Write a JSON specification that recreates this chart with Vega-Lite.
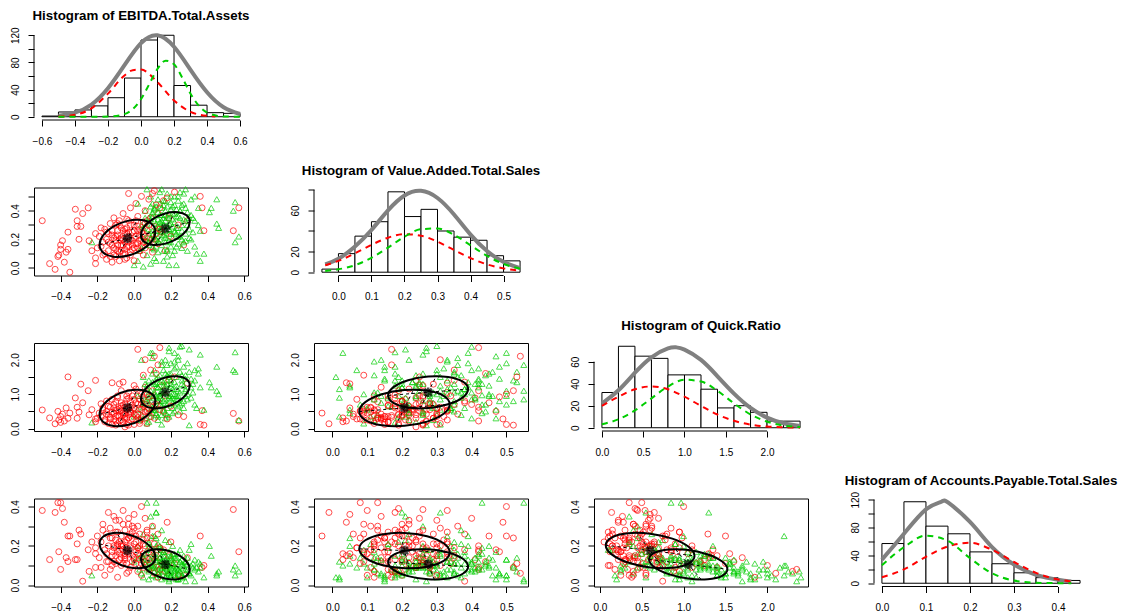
{
"$schema":"https://vega.github.io/schema/vega-lite/v6.json",
"background":"white",
"padding":{"left":9,"top":8,"right":5,"bottom":3},
"bounds":"flush",
"columns":4,
"spacing":{"row":67.5,"column":66},
"config":{
 "view":{"stroke":null},
 "font":"Liberation Sans",
 "axis":{"domain":false,"grid":false,"tickSize":6,"tickColor":"#000","tickWidth":1,"labelFont":"Liberation Sans","labelFontSize":10,"labelColor":"#000","labelPadding":8,"labelFlush":false,"labelOverlap":false,"tickCount":20},
 "axisX":{"labelPadding":10},
 "axisY":{"labelAngle":270,"labelAlign":"center","labelBaseline":"bottom"},
 "title":{"font":"Liberation Sans","fontSize":13.3,"fontWeight":"bold","color":"#000","anchor":"middle","frame":"group","baseline":"alphabetic"}
},
"datasets":{
"pts":[
{"g":"r","e":-0.5,"v":0.33,"q":0.54,"a":0.38},
{"g":"g","e":0.0,"v":0.02,"q":0.35,"a":0.12},
{"g":"r","e":-0.46,"v":0.03,"q":0.31,"a":0.13},
{"g":"g","e":0.02,"v":0.05,"q":0.55,"a":0.2},
{"g":"r","e":-0.43,"v":-0.01,"q":0.14,"a":0.37},
{"g":"g","e":-0.23,"v":0.18,"q":0.18,"a":0.05},
{"g":"r","e":-0.415,"v":0.08,"q":0.5,"a":0.42},
{"g":"g","e":0.03,"v":0.12,"q":0.25,"a":0.08},
{"g":"r","e":-0.4,"v":0.13,"q":0.35,"a":0.42},
{"g":"g","e":0.04,"v":0.3,"q":0.4,"a":0.15},
{"g":"r","e":-0.39,"v":0.19,"q":0.42,"a":0.39},
{"g":"g","e":0.05,"v":0.01,"q":1.5,"a":0.04},
{"g":"r","e":-0.36,"v":0.25,"q":1.5,"a":0.25},
{"g":"g","e":0.05,"v":0.22,"q":0.62,"a":0.26},
{"g":"r","e":-0.38,"v":0.04,"q":0.22,"a":0.32},
{"g":"g","e":0.06,"v":0.4,"q":0.3,"a":0.11},
{"g":"r","e":-0.35,"v":-0.03,"q":0.45,"a":0.25},
{"g":"g","e":0.07,"v":0.55,"q":0.85,"a":0.42},
{"g":"r","e":-0.36,"v":0.13,"q":0.3,"a":0.12},
{"g":"g","e":0.07,"v":0.09,"q":0.15,"a":0.18},
{"g":"r","e":-0.32,"v":0.41,"q":0.89,"a":0.13},
{"g":"g","e":0.08,"v":0.18,"q":1.4,"a":0.07},
{"g":"r","e":-0.31,"v":0.33,"q":0.62,"a":0.21},
{"g":"g","e":0.08,"v":0.35,"q":0.7,"a":0.22},
{"g":"r","e":-0.31,"v":0.29,"q":0.3,"a":0.13},
{"g":"g","e":0.09,"v":0.5,"q":1.1,"a":0.13},
{"g":"r","e":-0.3,"v":0.2,"q":0.48,"a":0.28},
{"g":"g","e":0.09,"v":0.03,"q":2.2,"a":0.1},
{"g":"r","e":-0.29,"v":0.29,"q":1.29,"a":0.26},
{"g":"g","e":0.1,"v":0.26,"q":0.45,"a":0.3},
{"g":"r","e":-0.28,"v":0.38,"q":0.75,"a":0.02},
{"g":"g","e":0.1,"v":0.14,"q":0.95,"a":0.05},
{"g":"r","e":-0.25,"v":0.42,"q":1.1,"a":0.18},
{"g":"g","e":0.11,"v":0.42,"q":1.3,"a":0.16},
{"g":"r","e":-0.245,"v":0.19,"q":0.4,"a":0.07},
{"g":"g","e":0.11,"v":0.07,"q":1.7,"a":0.09},
{"g":"r","e":-0.21,"v":0.24,"q":1.4,"a":0.09},
{"g":"g","e":0.12,"v":0.31,"q":0.55,"a":0.37},
{"g":"r","e":-0.21,"v":0.07,"q":0.28,"a":0.19},
{"g":"g","e":0.12,"v":0.2,"q":1.2,"a":0.12},
{"g":"r","e":-0.21,"v":0.03,"q":0.2,"a":0.16},
{"g":"g","e":0.13,"v":0.48,"q":0.8,"a":0.06},
{"g":"r","e":-0.41,"v":0.09,"q":0.25,"a":0.17},
{"g":"g","e":0.13,"v":0.11,"q":0.35,"a":0.21},
{"g":"r","e":-0.4,"v":0.16,"q":0.18,"a":0.08},
{"g":"g","e":0.14,"v":0.37,"q":1.55,"a":0.09},
{"g":"r","e":-0.37,"v":0.11,"q":0.6,"a":0.14},
{"g":"g","e":0.14,"v":0.24,"q":0.9,"a":0.14},
{"g":"r","e":-0.23,"v":0.12,"q":0.55,"a":0.22},
{"g":"g","e":0.15,"v":0.55,"q":1.85,"a":0.03},
{"g":"r","e":0.36,"v":0.5,"q":0.12,"a":0.25},
{"g":"g","e":0.15,"v":0.16,"q":0.65,"a":0.19},
{"g":"r","e":0.37,"v":0.42,"q":0.52,"a":0.09},
{"g":"g","e":0.15,"v":0.29,"q":1.05,"a":0.08},
{"g":"r","e":0.54,"v":0.26,"q":0.44,"a":0.385},
{"g":"g","e":0.16,"v":0.44,"q":0.5,"a":0.12},
{"g":"r","e":0.57,"v":0.42,"q":0.22,"a":0.17},
{"g":"g","e":0.16,"v":0.05,"q":1.25,"a":0.15},
{"g":"r","e":0.38,"v":0.26,"q":0.1,"a":0.1},
{"g":"g","e":0.17,"v":0.33,"q":2.0,"a":0.04},
{"g":"r","e":0.27,"v":0.16,"q":0.35,"a":0.05},
{"g":"g","e":0.17,"v":0.21,"q":0.75,"a":0.23},
{"g":"r","e":0.29,"v":0.33,"q":1.32,"a":0.14},
{"g":"g","e":0.18,"v":0.52,"q":1.4,"a":0.1},
{"g":"r","e":-0.18,"v":0.15,"q":0.35,"a":0.22},
{"g":"g","e":0.18,"v":0.13,"q":0.4,"a":0.06},
{"g":"r","e":-0.17,"v":0.09,"q":0.55,"a":0.31},
{"g":"g","e":0.19,"v":0.38,"q":1.15,"a":0.17},
{"g":"r","e":-0.16,"v":0.27,"q":0.2,"a":0.18},
{"g":"g","e":0.19,"v":0.27,"q":2.35,"a":0.02},
{"g":"r","e":-0.15,"v":0.06,"q":0.42,"a":0.26},
{"g":"g","e":0.2,"v":0.46,"q":0.95,"a":0.13},
{"g":"r","e":-0.15,"v":0.2,"q":0.8,"a":0.12},
{"g":"g","e":0.2,"v":0.18,"q":1.6,"a":0.07},
{"g":"r","e":-0.14,"v":0.12,"q":0.15,"a":0.2},
{"g":"g","e":0.21,"v":0.34,"q":0.6,"a":0.2},
{"g":"r","e":-0.13,"v":0.31,"q":0.62,"a":0.29},
{"g":"g","e":0.21,"v":0.09,"q":1.0,"a":0.11},
{"g":"r","e":-0.13,"v":0.17,"q":0.33,"a":0.08},
{"g":"g","e":0.22,"v":0.5,"q":2.2,"a":0.05},
{"g":"r","e":-0.12,"v":0.04,"q":1.33,"a":0.15},
{"g":"g","e":0.22,"v":0.25,"q":1.35,"a":0.14},
{"g":"r","e":-0.12,"v":0.23,"q":0.48,"a":0.24},
{"g":"g","e":0.23,"v":0.41,"q":0.85,"a":0.09},
{"g":"r","e":-0.11,"v":0.14,"q":0.27,"a":0.35},
{"g":"g","e":0.23,"v":0.15,"q":1.8,"a":0.03},
{"g":"r","e":-0.11,"v":0.35,"q":0.7,"a":0.19},
{"g":"g","e":0.24,"v":0.36,"q":1.1,"a":0.16},
{"g":"r","e":-0.1,"v":0.08,"q":0.52,"a":0.11},
{"g":"g","e":0.25,"v":0.53,"q":1.65,"a":0.07},
{"g":"r","e":-0.1,"v":0.19,"q":0.1,"a":0.27},
{"g":"g","e":0.25,"v":0.22,"q":0.7,"a":0.12},
{"g":"r","e":-0.09,"v":0.26,"q":0.9,"a":0.21},
{"g":"g","e":0.26,"v":0.3,"q":2.4,"a":0.04},
{"g":"r","e":-0.09,"v":0.12,"q":0.38,"a":0.04},
{"g":"g","e":0.27,"v":0.45,"q":1.25,"a":0.1},
{"g":"r","e":-0.08,"v":0.05,"q":1.3,"a":0.16},
{"g":"g","e":0.28,"v":0.19,"q":0.95,"a":0.06},
{"g":"r","e":-0.08,"v":0.3,"q":0.58,"a":0.33},
{"g":"g","e":0.29,"v":0.39,"q":1.9,"a":0.08},
{"g":"r","e":-0.07,"v":0.21,"q":0.25,"a":0.25},
{"g":"g","e":0.3,"v":0.27,"q":0.1,"a":0.18},
{"g":"r","e":-0.07,"v":0.16,"q":0.66,"a":0.14},
{"g":"g","e":0.31,"v":0.48,"q":1.45,"a":0.05},
{"g":"r","e":-0.06,"v":0.38,"q":1.35,"a":0.18},
{"g":"g","e":0.32,"v":0.35,"q":1.05,"a":0.11},
{"g":"r","e":-0.06,"v":0.1,"q":0.45,"a":0.38},
{"g":"g","e":0.33,"v":0.15,"q":1.7,"a":0.02},
{"g":"r","e":-0.05,"v":0.24,"q":0.05,"a":0.22},
{"g":"g","e":0.34,"v":0.1,"q":0.6,"a":0.09},
{"g":"r","e":-0.05,"v":0.18,"q":0.72,"a":0.13},
{"g":"g","e":0.35,"v":0.3,"q":1.6,"a":0.07},
{"g":"r","e":-0.05,"v":0.13,"q":0.3,"a":0.28},
{"g":"g","e":0.35,"v":0.42,"q":1.75,"a":0.12},
{"g":"r","e":-0.04,"v":0.28,"q":0.55,"a":0.06},
{"g":"g","e":0.36,"v":0.05,"q":1.2,"a":0.11},
{"g":"r","e":-0.04,"v":0.07,"q":0.85,"a":0.19},
{"g":"g","e":0.38,"v":0.1,"q":0.55,"a":0.04},
{"g":"r","e":-0.03,"v":0.22,"q":0.4,"a":0.31},
{"g":"g","e":0.41,"v":0.39,"q":1.35,"a":0.2},
{"g":"r","e":-0.03,"v":0.33,"q":1.05,"a":0.16},
{"g":"g","e":0.42,"v":0.42,"q":1.2,"a":0.15},
{"g":"r","e":-0.03,"v":0.15,"q":0.18,"a":0.24},
{"g":"g","e":0.45,"v":0.48,"q":1.8,"a":0.06},
{"g":"r","e":-0.02,"v":0.42,"q":0.62,"a":0.2},
{"g":"g","e":0.45,"v":0.31,"q":1.1,"a":0.05},
{"g":"r","e":-0.02,"v":0.11,"q":0.48,"a":0.09},
{"g":"g","e":0.46,"v":0.28,"q":1.0,"a":0.07},
{"g":"r","e":-0.01,"v":0.25,"q":0.95,"a":0.27},
{"g":"g","e":0.54,"v":0.4,"q":1.7,"a":0.08},
{"g":"r","e":-0.01,"v":0.19,"q":0.28,"a":0.15},
{"g":"g","e":0.55,"v":0.46,"q":1.65,"a":0.05},
{"g":"r","e":0.0,"v":0.05,"q":0.6,"a":0.36},
{"g":"g","e":0.55,"v":0.18,"q":2.22,"a":0.1},
{"g":"r","e":0.0,"v":0.3,"q":0.12,"a":0.21},
{"g":"g","e":0.57,"v":0.22,"q":0.25,"a":0.07},
{"g":"r","e":0.01,"v":0.22,"q":1.15,"a":0.11},
{"g":"g","e":0.06,"v":0.2,"q":0.85,"a":0.13},
{"g":"r","e":0.01,"v":0.45,"q":0.75,"a":0.25},
{"g":"g","e":0.08,"v":0.27,"q":1.05,"a":0.09},
{"g":"r","e":0.02,"v":0.17,"q":2.3,"a":0.07},
{"g":"g","e":0.1,"v":0.38,"q":0.6,"a":0.15},
{"g":"r","e":0.02,"v":0.36,"q":0.42,"a":0.3},
{"g":"g","e":0.12,"v":0.15,"q":1.45,"a":0.04},
{"g":"r","e":0.03,"v":0.12,"q":0.85,"a":0.18},
{"g":"g","e":0.13,"v":0.29,"q":0.25,"a":0.1},
{"g":"r","e":0.03,"v":0.27,"q":0.22,"a":0.13},
{"g":"g","e":0.14,"v":0.45,"q":1.0,"a":0.2},
{"g":"r","e":0.04,"v":0.5,"q":1.0,"a":0.4},
{"g":"g","e":0.16,"v":0.23,"q":1.35,"a":0.07},
{"g":"r","e":0.04,"v":0.2,"q":0.55,"a":0.05},
{"g":"g","e":0.17,"v":0.4,"q":0.85,"a":0.11},
{"g":"r","e":0.05,"v":0.09,"q":1.55,"a":0.16},
{"g":"g","e":0.18,"v":0.08,"q":0.7,"a":0.14},
{"g":"r","e":0.05,"v":0.32,"q":0.35,"a":0.23},
{"g":"g","e":0.19,"v":0.31,"q":1.5,"a":0.06},
{"g":"r","e":0.06,"v":0.4,"q":0.7,"a":0.34},
{"g":"g","e":0.2,"v":0.24,"q":1.2,"a":0.09},
{"g":"r","e":0.06,"v":0.14,"q":1.2,"a":0.12},
{"g":"g","e":0.21,"v":0.43,"q":0.45,"a":0.16},
{"g":"r","e":0.07,"v":0.26,"q":0.15,"a":0.28},
{"g":"g","e":0.22,"v":0.12,"q":1.95,"a":0.08},
{"g":"r","e":0.08,"v":0.48,"q":0.92,"a":0.17},
{"g":"g","e":0.23,"v":0.28,"q":0.95,"a":0.13},
{"g":"r","e":0.08,"v":0.21,"q":0.45,"a":0.08},
{"g":"g","e":0.24,"v":0.47,"q":2.1,"a":0.03},
{"g":"r","e":0.09,"v":0.35,"q":1.7,"a":0.14},
{"g":"g","e":0.25,"v":0.35,"q":0.5,"a":0.18},
{"g":"r","e":0.1,"v":0.11,"q":0.62,"a":0.3},
{"g":"g","e":0.26,"v":0.2,"q":1.4,"a":0.05},
{"g":"r","e":0.1,"v":0.52,"q":1.1,"a":0.09},
{"g":"g","e":0.27,"v":0.52,"q":0.8,"a":0.09},
{"g":"r","e":0.11,"v":0.29,"q":0.3,"a":0.21},
{"g":"g","e":0.28,"v":0.33,"q":1.15,"a":0.12},
{"g":"r","e":0.12,"v":0.44,"q":1.6,"a":0.12},
{"g":"g","e":0.3,"v":0.21,"q":2.3,"a":0.06},
{"g":"r","e":0.13,"v":0.17,"q":1.85,"a":0.04},
{"g":"g","e":0.11,"v":0.33,"q":1.0,"a":0.25},
{"g":"r","e":0.13,"v":0.38,"q":0.8,"a":0.26},
{"g":"g","e":0.15,"v":0.37,"q":0.4,"a":0.28},
{"g":"r","e":0.15,"v":0.25,"q":1.25,"a":0.1},
{"g":"g","e":0.09,"v":0.43,"q":0.7,"a":0.19},
{"g":"r","e":0.16,"v":0.47,"q":0.5,"a":0.18},
{"g":"g","e":0.17,"v":0.26,"q":1.6,"a":0.13},
{"g":"r","e":0.17,"v":0.12,"q":0.95,"a":0.07},
{"g":"g","e":0.19,"v":0.19,"q":0.35,"a":0.22},
{"g":"r","e":0.19,"v":0.35,"q":1.4,"a":0.15},
{"g":"g","e":0.21,"v":0.29,"q":0.75,"a":0.1},
{"g":"r","e":0.2,"v":0.22,"q":0.65,"a":0.22},
{"g":"g","e":0.13,"v":0.34,"q":1.2,"a":0.08},
{"g":"r","e":0.22,"v":0.53,"q":1.5,"a":0.11},
{"g":"g","e":0.16,"v":0.12,"q":1.05,"a":0.17},
{"g":"r","e":0.24,"v":0.3,"q":0.4,"a":0.05},
{"g":"g","e":0.18,"v":0.36,"q":1.85,"a":0.11},
{"g":"r","e":-0.19,"v":0.22,"q":0.45,"a":0.14},
{"g":"g","e":0.2,"v":0.41,"q":1.3,"a":0.14},
{"g":"r","e":-0.16,"v":0.1,"q":0.25,"a":0.05},
{"g":"g","e":0.24,"v":0.17,"q":0.65,"a":0.08},
{"g":"r","e":-0.14,"v":0.18,"q":0.65,"a":0.37},
{"g":"g","e":0.14,"v":0.26,"q":0.8,"a":0.12},
{"g":"r","e":-0.12,"v":0.26,"q":0.12,"a":0.1},
{"g":"g","e":0.11,"v":0.22,"q":0.55,"a":0.1},
{"g":"r","e":-0.1,"v":0.13,"q":0.78,"a":0.23},
{"g":"g","e":0.22,"v":0.38,"q":1.0,"a":0.06},
{"g":"r","e":-0.08,"v":0.2,"q":0.36,"a":0.13},
{"g":"g","e":0.07,"v":0.31,"q":1.25,"a":0.16},
{"g":"r","e":-0.06,"v":0.16,"q":0.2,"a":0.2},
{"g":"g","e":0.26,"v":0.44,"q":1.55,"a":0.11},
{"g":"r","e":-0.04,"v":0.34,"q":0.95,"a":0.11},
{"g":"g","e":0.29,"v":0.12,"q":0.85,"a":0.14},
{"g":"r","e":-0.02,"v":0.09,"q":0.5,"a":0.26},
{"g":"g","e":0.32,"v":0.25,"q":1.3,"a":0.09},
{"g":"r","e":0.0,"v":0.21,"q":0.85,"a":0.29},
{"g":"g","e":0.04,"v":0.14,"q":2.0,"a":0.06},
{"g":"r","e":0.02,"v":0.14,"q":0.32,"a":0.19},
{"g":"g","e":0.02,"v":0.45,"q":0.95,"a":0.14},
{"g":"r","e":0.04,"v":0.25,"q":0.72,"a":0.14},
{"g":"g","e":0.19,"v":0.02,"q":0.9,"a":0.03},
{"g":"r","e":0.07,"v":0.18,"q":0.98,"a":0.24},
{"g":"g","e":0.1,"v":0.36,"q":2.05,"a":0.05},
{"g":"r","e":-0.09,"v":0.23,"q":0.55,"a":0.17},
{"g":"g","e":0.33,"v":0.5,"q":0.7,"a":0.13},
{"g":"r","e":-0.05,"v":0.27,"q":0.42,"a":0.15},
{"g":"g","e":0.28,"v":0.55,"q":1.1,"a":0.02},
{"g":"r","e":-0.01,"v":0.16,"q":0.68,"a":0.12},
{"g":"g","e":0.12,"v":0.05,"q":0.45,"a":0.24},
{"g":"r","e":0.03,"v":0.23,"q":0.58,"a":0.2},
{"g":"g","e":0.17,"v":0.47,"q":0.3,"a":0.09},
{"g":"r","e":-0.07,"v":0.12,"q":0.52,"a":0.21},
{"g":"g","e":0.23,"v":0.02,"q":1.15,"a":0.04},
{"g":"r","e":0.11,"v":0.54,"q":2.1,"a":0.06},
{"g":"g","e":0.25,"v":0.4,"q":2.38,"a":0.07},
{"g":"r","e":0.14,"v":0.42,"q":2.35,"a":0.08},
{"g":"g","e":0.31,"v":0.37,"q":0.9,"a":0.21},
{"g":"r","e":0.06,"v":0.31,"q":2.0,"a":0.1},
{"g":"g","e":0.36,"v":0.26,"q":2.15,"a":0.09},
{"g":"r","e":0.18,"v":0.49,"q":0.28,"a":0.32},
{"g":"g","e":0.08,"v":0.24,"q":0.2,"a":0.03},
{"g":"r","e":-0.03,"v":0.52,"q":0.1,"a":0.24},
{"g":"g","e":0.15,"v":0.31,"q":0.12,"a":0.18},
{"g":"g","e":0.12,"v":0.43,"q":0.97,"a":0.42},
{"g":"g","e":0.12,"v":0.2,"q":1.3,"a":0.37},
{"g":"g","e":0.09,"v":0.21,"q":0.35,"a":0.35},
{"g":"g","e":0.1,"v":0.39,"q":2.2,"a":0.25},
{"g":"r","e":-0.15,"v":0.25,"q":0.5,"a":0.16},
{"g":"g","e":0.05,"v":0.28,"q":0.75,"a":0.14},
{"g":"r","e":-0.13,"v":0.08,"q":0.28,"a":0.24},
{"g":"g","e":0.07,"v":0.19,"q":1.15,"a":0.08},
{"g":"r","e":-0.11,"v":0.21,"q":0.6,"a":0.2},
{"g":"g","e":0.09,"v":0.34,"q":0.55,"a":0.12},
{"g":"r","e":-0.1,"v":0.3,"q":0.35,"a":0.15},
{"g":"g","e":0.1,"v":0.23,"q":1.35,"a":0.1},
{"g":"r","e":-0.09,"v":0.16,"q":0.95,"a":0.27},
{"g":"g","e":0.11,"v":0.41,"q":0.9,"a":0.07},
{"g":"r","e":-0.08,"v":0.11,"q":0.22,"a":0.18},
{"g":"g","e":0.12,"v":0.28,"q":0.65,"a":0.18},
{"g":"r","e":-0.07,"v":0.28,"q":0.75,"a":0.1},
{"g":"g","e":0.13,"v":0.19,"q":1.5,"a":0.06},
{"g":"r","e":-0.06,"v":0.2,"q":0.4,"a":0.31},
{"g":"g","e":0.13,"v":0.39,"q":1.2,"a":0.13},
{"g":"r","e":-0.05,"v":0.1,"q":0.62,"a":0.16},
{"g":"g","e":0.14,"v":0.32,"q":0.95,"a":0.05},
{"g":"r","e":-0.04,"v":0.24,"q":0.3,"a":0.23},
{"g":"g","e":0.14,"v":0.2,"q":0.7,"a":0.16},
{"g":"r","e":-0.03,"v":0.18,"q":0.88,"a":0.07},
{"g":"g","e":0.15,"v":0.42,"q":1.4,"a":0.09},
{"g":"r","e":-0.02,"v":0.3,"q":0.45,"a":0.19},
{"g":"g","e":0.15,"v":0.25,"q":1.1,"a":0.12},
{"g":"r","e":-0.01,"v":0.13,"q":0.55,"a":0.3},
{"g":"g","e":0.16,"v":0.35,"q":0.8,"a":0.07},
{"g":"r","e":0.0,"v":0.26,"q":1.25,"a":0.13},
{"g":"g","e":0.16,"v":0.3,"q":1.7,"a":0.1},
{"g":"r","e":0.01,"v":0.17,"q":0.38,"a":0.22},
{"g":"g","e":0.17,"v":0.18,"q":1.25,"a":0.15},
{"g":"r","e":0.02,"v":0.29,"q":0.7,"a":0.16},
{"g":"g","e":0.17,"v":0.37,"q":1.05,"a":0.04},
{"g":"r","e":0.03,"v":0.19,"q":0.15,"a":0.26},
{"g":"g","e":0.18,"v":0.29,"q":0.6,"a":0.12},
{"g":"r","e":0.05,"v":0.24,"q":0.9,"a":0.09},
{"g":"g","e":0.18,"v":0.43,"q":1.3,"a":0.08},
{"g":"r","e":0.06,"v":0.22,"q":0.48,"a":0.2},
{"g":"g","e":0.19,"v":0.24,"q":0.95,"a":0.1},
{"g":"r","e":0.08,"v":0.3,"q":0.58,"a":0.13},
{"g":"g","e":0.19,"v":0.35,"q":1.6,"a":0.06},
{"g":"r","e":0.09,"v":0.15,"q":0.35,"a":0.24},
{"g":"g","e":0.2,"v":0.31,"q":0.85,"a":0.15},
{"g":"r","e":0.12,"v":0.24,"q":0.7,"a":0.15},
{"g":"g","e":0.2,"v":0.15,"q":1.4,"a":0.05},
{"g":"r","e":-0.17,"v":0.18,"q":0.6,"a":0.28},
{"g":"g","e":0.21,"v":0.38,"q":1.15,"a":0.11},
{"g":"r","e":-0.14,"v":0.24,"q":0.4,"a":0.12},
{"g":"g","e":0.21,"v":0.21,"q":0.9,"a":0.13},
{"g":"r","e":-0.12,"v":0.16,"q":0.85,"a":0.17},
{"g":"g","e":0.22,"v":0.32,"q":1.75,"a":0.07},
{"g":"r","e":-0.1,"v":0.22,"q":0.22,"a":0.33},
{"g":"g","e":0.22,"v":0.44,"q":0.7,"a":0.1},
{"g":"r","e":-0.08,"v":0.33,"q":0.5,"a":0.22},
{"g":"g","e":0.23,"v":0.24,"q":1.25,"a":0.09},
{"g":"r","e":-0.06,"v":0.26,"q":0.68,"a":0.11},
{"g":"g","e":0.23,"v":0.36,"q":1.5,"a":0.14},
{"g":"r","e":-0.04,"v":0.15,"q":0.12,"a":0.17},
{"g":"g","e":0.24,"v":0.28,"q":0.85,"a":0.06},
{"g":"r","e":-0.02,"v":0.2,"q":0.78,"a":0.25},
{"g":"g","e":0.24,"v":0.22,"q":2.0,"a":0.08},
{"g":"r","e":0.0,"v":0.14,"q":0.42,"a":0.14},
{"g":"g","e":0.25,"v":0.4,"q":1.05,"a":0.12},
{"g":"r","e":0.02,"v":0.26,"q":0.95,"a":0.19},
{"g":"g","e":0.26,"v":0.26,"q":1.3,"a":0.1},
{"g":"r","e":0.04,"v":0.15,"q":0.28,"a":0.11},
{"g":"g","e":0.27,"v":0.34,"q":0.6,"a":0.15},
{"g":"r","e":0.07,"v":0.33,"q":0.52,"a":0.27},
{"g":"g","e":0.27,"v":0.18,"q":1.8,"a":0.04},
{"g":"r","e":0.1,"v":0.2,"q":0.8,"a":0.18},
{"g":"g","e":0.28,"v":0.42,"q":1.45,"a":0.08},
{"g":"r","e":-0.2,"v":0.14,"q":0.3,"a":0.25},
{"g":"g","e":0.29,"v":0.3,"q":1.0,"a":0.11},
{"g":"r","e":-0.18,"v":0.28,"q":0.72,"a":0.09},
{"g":"g","e":0.3,"v":0.35,"q":1.65,"a":0.06},
{"g":"r","e":-0.11,"v":0.09,"q":0.45,"a":0.12},
{"g":"g","e":0.31,"v":0.2,"q":1.2,"a":0.1},
{"g":"r","e":-0.07,"v":0.19,"q":1.1,"a":0.2},
{"g":"g","e":0.12,"v":0.26,"q":0.4,"a":0.2},
{"g":"r","e":-0.03,"v":0.25,"q":0.6,"a":0.34},
{"g":"g","e":0.16,"v":0.47,"q":0.55,"a":0.17},
{"g":"r","e":0.01,"v":0.33,"q":0.25,"a":0.17},
{"g":"g","e":0.18,"v":0.12,"q":1.55,"a":0.11},
{"g":"r","e":0.05,"v":0.18,"q":0.65,"a":0.21},
{"g":"g","e":0.2,"v":0.5,"q":1.9,"a":0.05},
{"g":"r","e":0.14,"v":0.27,"q":0.55,"a":0.19},
{"g":"g","e":0.14,"v":0.53,"q":1.35,"a":0.14},
{"g":"r","e":-0.05,"v":0.06,"q":0.35,"a":0.14},
{"g":"g","e":0.1,"v":0.45,"q":1.6,"a":0.09},
{"g":"r","e":-0.09,"v":0.31,"q":0.15,"a":0.2},
{"g":"g","e":0.08,"v":0.16,"q":0.9,"a":0.21},
{"g":"g","e":0.24,"v":0.5,"q":0.95,"a":0.03},
{"g":"g","e":0.26,"v":0.14,"q":0.75,"a":0.13},
{"g":"g","e":0.19,"v":0.27,"q":2.25,"a":0.07},
{"g":"g","e":0.17,"v":0.22,"q":0.45,"a":0.09},
{"g":"g","e":0.22,"v":0.26,"q":0.5,"a":0.16},
{"g":"g","e":0.15,"v":0.33,"q":1.95,"a":0.12},
{"g":"g","e":0.11,"v":0.13,"q":1.05,"a":0.14},
{"g":"g","e":0.28,"v":0.24,"q":1.55,"a":0.12},
{"g":"g","e":0.33,"v":0.33,"q":1.4,"a":0.08},
{"g":"g","e":0.06,"v":0.35,"q":1.3,"a":0.11}
],
"hist":[
{"p":"e","x0":-0.6,"x1":-0.5,"n":1},{"p":"e","x0":-0.5,"x1":-0.4,"n":7},{"p":"e","x0":-0.4,"x1":-0.3,"n":10},{"p":"e","x0":-0.3,"x1":-0.2,"n":16},{"p":"e","x0":-0.2,"x1":-0.1,"n":28},{"p":"e","x0":-0.1,"x1":0.0,"n":57},{"p":"e","x0":0.0,"x1":0.1,"n":113},{"p":"e","x0":0.1,"x1":0.2,"n":120},{"p":"e","x0":0.2,"x1":0.3,"n":46},{"p":"e","x0":0.3,"x1":0.4,"n":17},{"p":"e","x0":0.4,"x1":0.5,"n":6},{"p":"e","x0":0.5,"x1":0.6,"n":5},
{"p":"v","x0":-0.05,"x1":0.0,"n":3},{"p":"v","x0":0.0,"x1":0.05,"n":18},{"p":"v","x0":0.05,"x1":0.1,"n":35},{"p":"v","x0":0.1,"x1":0.15,"n":49},{"p":"v","x0":0.15,"x1":0.2,"n":78},{"p":"v","x0":0.2,"x1":0.25,"n":54},{"p":"v","x0":0.25,"x1":0.3,"n":61},{"p":"v","x0":0.3,"x1":0.35,"n":40},{"p":"v","x0":0.35,"x1":0.4,"n":34},{"p":"v","x0":0.4,"x1":0.45,"n":31},{"p":"v","x0":0.45,"x1":0.5,"n":16},{"p":"v","x0":0.5,"x1":0.55,"n":11},
{"p":"q","x0":0.0,"x1":0.2,"n":32},{"p":"q","x0":0.2,"x1":0.4,"n":74},{"p":"q","x0":0.4,"x1":0.6,"n":65},{"p":"q","x0":0.6,"x1":0.8,"n":63},{"p":"q","x0":0.8,"x1":1.0,"n":48},{"p":"q","x0":1.0,"x1":1.2,"n":48},{"p":"q","x0":1.2,"x1":1.4,"n":35},{"p":"q","x0":1.4,"x1":1.6,"n":18},{"p":"q","x0":1.6,"x1":1.8,"n":20},{"p":"q","x0":1.8,"x1":2.0,"n":14},{"p":"q","x0":2.0,"x1":2.2,"n":6},{"p":"q","x0":2.2,"x1":2.4,"n":6},
{"p":"a","x0":0.0,"x1":0.05,"n":57},{"p":"a","x0":0.05,"x1":0.1,"n":117},{"p":"a","x0":0.1,"x1":0.15,"n":82},{"p":"a","x0":0.15,"x1":0.2,"n":71},{"p":"a","x0":0.2,"x1":0.25,"n":45},{"p":"a","x0":0.25,"x1":0.3,"n":28},{"p":"a","x0":0.3,"x1":0.35,"n":15},{"p":"a","x0":0.35,"x1":0.4,"n":8},{"p":"a","x0":0.4,"x1":0.45,"n":4}
],
"dens":[
{"p":"e","c":"all","x":-0.5,"y":1.5},{"p":"e","c":"all","x":-0.4,"y":6},{"p":"e","c":"all","x":-0.3,"y":18},{"p":"e","c":"all","x":-0.2,"y":42},{"p":"e","c":"all","x":-0.1,"y":76},{"p":"e","c":"all","x":0.0,"y":108.5},{"p":"e","c":"all","x":0.1,"y":120},{"p":"e","c":"all","x":0.2,"y":103},{"p":"e","c":"all","x":0.3,"y":69},{"p":"e","c":"all","x":0.4,"y":36},{"p":"e","c":"all","x":0.5,"y":14},{"p":"e","c":"all","x":0.6,"y":4},
{"p":"e","c":"r","x":-0.5,"y":0.4},{"p":"e","c":"r","x":-0.4,"y":2.8},{"p":"e","c":"r","x":-0.3,"y":12.3},{"p":"e","c":"r","x":-0.2,"y":34},{"p":"e","c":"r","x":-0.1,"y":60.7},{"p":"e","c":"r","x":-0.05,"y":68.6},{"p":"e","c":"r","x":0.0,"y":69.4},{"p":"e","c":"r","x":0.1,"y":50.8},{"p":"e","c":"r","x":0.2,"y":23.9},{"p":"e","c":"r","x":0.3,"y":7.2},{"p":"e","c":"r","x":0.4,"y":1.4},{"p":"e","c":"r","x":0.45,"y":0.5},
{"p":"e","c":"g","x":-0.5,"y":0},{"p":"e","c":"g","x":-0.3,"y":0},{"p":"e","c":"g","x":-0.2,"y":0.2},{"p":"e","c":"g","x":-0.1,"y":3.8},{"p":"e","c":"g","x":0.0,"y":26},{"p":"e","c":"g","x":0.05,"y":48},{"p":"e","c":"g","x":0.1,"y":70.5},{"p":"e","c":"g","x":0.15,"y":82.6},{"p":"e","c":"g","x":0.2,"y":77.2},{"p":"e","c":"g","x":0.25,"y":57.5},{"p":"e","c":"g","x":0.3,"y":34},{"p":"e","c":"g","x":0.35,"y":16.2},{"p":"e","c":"g","x":0.4,"y":6.1},{"p":"e","c":"g","x":0.5,"y":0.4},{"p":"e","c":"g","x":0.6,"y":0},
{"p":"v","c":"all","x":-0.04,"y":7.5},{"p":"v","c":"all","x":0.0,"y":13},{"p":"v","c":"all","x":0.05,"y":25},{"p":"v","c":"all","x":0.1,"y":41},{"p":"v","c":"all","x":0.15,"y":60},{"p":"v","c":"all","x":0.2,"y":74.5},{"p":"v","c":"all","x":0.25,"y":79},{"p":"v","c":"all","x":0.3,"y":72},{"p":"v","c":"all","x":0.35,"y":56},{"p":"v","c":"all","x":0.4,"y":36.5},{"p":"v","c":"all","x":0.45,"y":20.5},{"p":"v","c":"all","x":0.5,"y":10},{"p":"v","c":"all","x":0.55,"y":4},
{"p":"v","c":"r","x":-0.04,"y":6.7},{"p":"v","c":"r","x":0.0,"y":11},{"p":"v","c":"r","x":0.05,"y":18.3},{"p":"v","c":"r","x":0.1,"y":26.5},{"p":"v","c":"r","x":0.15,"y":33.5},{"p":"v","c":"r","x":0.2,"y":36.9},{"p":"v","c":"r","x":0.25,"y":35.4},{"p":"v","c":"r","x":0.3,"y":29.6},{"p":"v","c":"r","x":0.35,"y":21.6},{"p":"v","c":"r","x":0.4,"y":13.7},{"p":"v","c":"r","x":0.45,"y":7.6},{"p":"v","c":"r","x":0.5,"y":3.7},{"p":"v","c":"r","x":0.54,"y":1.9},
{"p":"v","c":"g","x":-0.04,"y":1.2},{"p":"v","c":"g","x":0.0,"y":2.8},{"p":"v","c":"g","x":0.05,"y":6.8},{"p":"v","c":"g","x":0.1,"y":14},{"p":"v","c":"g","x":0.15,"y":23.9},{"p":"v","c":"g","x":0.2,"y":34.4},{"p":"v","c":"g","x":0.25,"y":41.7},{"p":"v","c":"g","x":0.3,"y":42.4},{"p":"v","c":"g","x":0.35,"y":36.3},{"p":"v","c":"g","x":0.4,"y":26.1},{"p":"v","c":"g","x":0.45,"y":15.8},{"p":"v","c":"g","x":0.5,"y":8},{"p":"v","c":"g","x":0.55,"y":3.4},
{"p":"q","c":"all","x":0.0,"y":22},{"p":"q","c":"all","x":0.2,"y":34},{"p":"q","c":"all","x":0.4,"y":50},{"p":"q","c":"all","x":0.6,"y":64},{"p":"q","c":"all","x":0.8,"y":72},{"p":"q","c":"all","x":0.9,"y":73},{"p":"q","c":"all","x":1.0,"y":71},{"p":"q","c":"all","x":1.2,"y":61.6},{"p":"q","c":"all","x":1.4,"y":46.7},{"p":"q","c":"all","x":1.6,"y":31},{"p":"q","c":"all","x":1.8,"y":18},{"p":"q","c":"all","x":2.0,"y":9.2},{"p":"q","c":"all","x":2.2,"y":4.1},{"p":"q","c":"all","x":2.4,"y":1.6},
{"p":"q","c":"r","x":0.0,"y":19.8},{"p":"q","c":"r","x":0.2,"y":28.2},{"p":"q","c":"r","x":0.4,"y":34.9},{"p":"q","c":"r","x":0.6,"y":37.5},{"p":"q","c":"r","x":0.8,"y":34.9},{"p":"q","c":"r","x":1.0,"y":28.2},{"p":"q","c":"r","x":1.2,"y":19.8},{"p":"q","c":"r","x":1.4,"y":12},{"p":"q","c":"r","x":1.6,"y":6.3},{"p":"q","c":"r","x":1.8,"y":2.9},{"p":"q","c":"r","x":2.0,"y":1.1},{"p":"q","c":"r","x":2.2,"y":0.4},{"p":"q","c":"r","x":2.4,"y":0.1},
{"p":"q","c":"g","x":0.0,"y":3.1},{"p":"q","c":"g","x":0.2,"y":7.7},{"p":"q","c":"g","x":0.4,"y":15.7},{"p":"q","c":"g","x":0.6,"y":26.7},{"p":"q","c":"g","x":0.8,"y":37.5},{"p":"q","c":"g","x":1.0,"y":43.6},{"p":"q","c":"g","x":1.2,"y":42},{"p":"q","c":"g","x":1.4,"y":33.5},{"p":"q","c":"g","x":1.6,"y":22.1},{"p":"q","c":"g","x":1.8,"y":12.1},{"p":"q","c":"g","x":2.0,"y":5.5},{"p":"q","c":"g","x":2.2,"y":2},{"p":"q","c":"g","x":2.4,"y":0.6},
{"p":"a","c":"all","x":0.0,"y":34},{"p":"a","c":"all","x":0.05,"y":71},{"p":"a","c":"all","x":0.1,"y":106},{"p":"a","c":"all","x":0.135,"y":117},{"p":"a","c":"all","x":0.15,"y":116},{"p":"a","c":"all","x":0.2,"y":88},{"p":"a","c":"all","x":0.25,"y":52},{"p":"a","c":"all","x":0.3,"y":27},{"p":"a","c":"all","x":0.35,"y":12},{"p":"a","c":"all","x":0.4,"y":5},{"p":"a","c":"all","x":0.43,"y":2.5},
{"p":"a","c":"r","x":0.0,"y":8.5},{"p":"a","c":"r","x":0.05,"y":20},{"p":"a","c":"r","x":0.1,"y":38},{"p":"a","c":"r","x":0.15,"y":53},{"p":"a","c":"r","x":0.2,"y":58},{"p":"a","c":"r","x":0.25,"y":48},{"p":"a","c":"r","x":0.3,"y":30.5},{"p":"a","c":"r","x":0.35,"y":14.9},{"p":"a","c":"r","x":0.4,"y":5.5},{"p":"a","c":"r","x":0.43,"y":2.5},
{"p":"a","c":"g","x":0.0,"y":26},{"p":"a","c":"g","x":0.05,"y":51.7},{"p":"a","c":"g","x":0.1,"y":68.4},{"p":"a","c":"g","x":0.15,"y":60.7},{"p":"a","c":"g","x":0.2,"y":36},{"p":"a","c":"g","x":0.25,"y":14.3},{"p":"a","c":"g","x":0.3,"y":3.8},{"p":"a","c":"g","x":0.35,"y":0.7},{"p":"a","c":"g","x":0.4,"y":0.1},{"p":"a","c":"g","x":0.43,"y":0}
],
"hax":[
{"p":"e","x0":-0.6,"x1":0.6,"y0":-4.8,"y1":-4.8},{"p":"e","x0":-0.648,"x1":-0.648,"y0":0,"y1":120},
{"p":"v","x0":0,"x1":0.5,"y0":-3.2,"y1":-3.2},{"p":"v","x0":-0.074,"x1":-0.074,"y0":0,"y1":80},
{"p":"q","x0":0,"x1":2,"y0":-2.96,"y1":-2.96},{"p":"q","x0":-0.096,"x1":-0.096,"y0":0,"y1":60},
{"p":"a","x0":0,"x1":0.4,"y0":-4.68,"y1":-4.68},{"p":"a","x0":-0.018,"x1":-0.018,"y0":0,"y1":120}
],
"cent":[
{"p":"ev","g":"r","x":-0.036,"y":0.207},{"p":"ev","g":"g","x":0.17,"y":0.275},
{"p":"eq","g":"r","x":-0.036,"y":0.6},{"p":"eq","g":"g","x":0.17,"y":1.055},
{"p":"ea","g":"r","x":-0.036,"y":0.176},{"p":"ea","g":"g","x":0.17,"y":0.106},
{"p":"vq","g":"r","x":0.207,"y":0.6},{"p":"vq","g":"g","x":0.275,"y":1.055},
{"p":"va","g":"r","x":0.207,"y":0.176},{"p":"va","g":"g","x":0.275,"y":0.106},
{"p":"qa","g":"r","x":0.6,"y":0.176},{"p":"qa","g":"g","x":1.055,"y":0.106}
],
"axl":[
{"p":"ev","x0":-0.188,"y0":0.1615,"x1":0.116,"y1":0.2525},{"p":"ev","x0":-0.0892,"y0":0.077,"x1":0.0172,"y1":0.337},
{"p":"ev","x0":0.037,"y0":0.229,"x1":0.303,"y1":0.321},{"p":"ev","x0":0.1168,"y0":0.16,"x1":0.2232,"y1":0.39},
{"p":"eq","x0":-0.188,"y0":0.4145,"x1":0.116,"y1":0.7855},{"p":"eq","x0":-0.0892,"y0":0.07,"x1":0.0172,"y1":1.13},
{"p":"eq","x0":0.037,"y0":0.8678,"x1":0.303,"y1":1.2422},{"p":"eq","x0":0.1168,"y0":0.587,"x1":0.2232,"y1":1.523},
{"p":"ea","x0":-0.188,"y0":0.2102,"x1":0.116,"y1":0.1418},{"p":"ea","x0":0.0218,"y0":0.086,"x1":-0.0938,"y1":0.266},
{"p":"ea","x0":0.037,"y0":0.1314,"x1":0.303,"y1":0.0806},{"p":"ea","x0":0.2139,"y0":0.029,"x1":0.1261,"y1":0.183},
{"p":"vq","x0":0.077,"y0":0.494,"x1":0.337,"y1":0.706},{"p":"vq","x0":0.181,"y0":0.07,"x1":0.233,"y1":1.13},
{"p":"vq","x0":0.16,"y0":0.9614,"x1":0.39,"y1":1.1486},{"p":"vq","x0":0.252,"y0":0.587,"x1":0.298,"y1":1.523},
{"p":"va","x0":0.077,"y0":0.185,"x1":0.337,"y1":0.167},{"p":"va","x0":0.22,"y0":0.086,"x1":0.194,"y1":0.266},
{"p":"va","x0":0.16,"y0":0.1176,"x1":0.39,"y1":0.0944},{"p":"va","x0":0.2923,"y0":0.029,"x1":0.2577,"y1":0.183},
{"p":"qa","x0":0.07,"y0":0.203,"x1":1.13,"y1":0.149},{"p":"qa","x0":0.759,"y0":0.086,"x1":0.441,"y1":0.266},
{"p":"qa","x0":0.587,"y0":0.1314,"x1":1.523,"y1":0.0806},{"p":"qa","x0":1.2094,"y0":0.029,"x1":0.9006,"y1":0.183}
],
"ell":[
{"p":"ev","g":"r","k":0,"x":0.116,"y":0.2525},{"p":"ev","g":"r","k":1,"x":0.0956,"y":0.3073},{"p":"ev","g":"r","k":2,"x":0.04,"y":0.3352},{"p":"ev","g":"r","k":3,"x":-0.036,"y":0.3288},{"p":"ev","g":"r","k":4,"x":-0.112,"y":0.2897},{"p":"ev","g":"r","k":5,"x":-0.1676,"y":0.2285},{"p":"ev","g":"r","k":6,"x":-0.188,"y":0.1615},{"p":"ev","g":"r","k":7,"x":-0.1676,"y":0.1067},{"p":"ev","g":"r","k":8,"x":-0.112,"y":0.0788},{"p":"ev","g":"r","k":9,"x":-0.036,"y":0.0852},{"p":"ev","g":"r","k":10,"x":0.04,"y":0.1243},{"p":"ev","g":"r","k":11,"x":0.0956,"y":0.1855},
{"p":"ev","g":"g","k":0,"x":0.303,"y":0.321},{"p":"ev","g":"g","k":1,"x":0.2852,"y":0.3675},{"p":"ev","g":"g","k":2,"x":0.2365,"y":0.3893},{"p":"ev","g":"g","k":3,"x":0.17,"y":0.3804},{"p":"ev","g":"g","k":4,"x":0.1035,"y":0.3433},{"p":"ev","g":"g","k":5,"x":0.0548,"y":0.2879},{"p":"ev","g":"g","k":6,"x":0.037,"y":0.229},{"p":"ev","g":"g","k":7,"x":0.0548,"y":0.1825},{"p":"ev","g":"g","k":8,"x":0.1035,"y":0.1607},{"p":"ev","g":"g","k":9,"x":0.17,"y":0.1696},{"p":"ev","g":"g","k":10,"x":0.2365,"y":0.2067},{"p":"ev","g":"g","k":11,"x":0.2852,"y":0.2621},
{"p":"eq","g":"r","k":0,"x":0.116,"y":0.7855},{"p":"eq","g":"r","k":1,"x":0.0956,"y":1.0089},{"p":"eq","g":"r","k":2,"x":0.04,"y":1.1227},{"p":"eq","g":"r","k":3,"x":-0.036,"y":1.0965},{"p":"eq","g":"r","k":4,"x":-0.112,"y":0.9372},{"p":"eq","g":"r","k":5,"x":-0.1676,"y":0.6876},{"p":"eq","g":"r","k":6,"x":-0.188,"y":0.4145},{"p":"eq","g":"r","k":7,"x":-0.1676,"y":0.1911},{"p":"eq","g":"r","k":8,"x":-0.112,"y":0.0773},{"p":"eq","g":"r","k":9,"x":-0.036,"y":0.1035},{"p":"eq","g":"r","k":10,"x":0.04,"y":0.2628},{"p":"eq","g":"r","k":11,"x":0.0956,"y":0.5124},
{"p":"eq","g":"g","k":0,"x":0.303,"y":1.2422},{"p":"eq","g":"g","k":1,"x":0.2852,"y":1.4316},{"p":"eq","g":"g","k":2,"x":0.2365,"y":1.5201},{"p":"eq","g":"g","k":3,"x":0.17,"y":1.4839},{"p":"eq","g":"g","k":4,"x":0.1035,"y":1.3329},{"p":"eq","g":"g","k":5,"x":0.0548,"y":1.1074},{"p":"eq","g":"g","k":6,"x":0.037,"y":0.8678},{"p":"eq","g":"g","k":7,"x":0.0548,"y":0.6784},{"p":"eq","g":"g","k":8,"x":0.1035,"y":0.5899},{"p":"eq","g":"g","k":9,"x":0.17,"y":0.6261},{"p":"eq","g":"g","k":10,"x":0.2365,"y":0.7771},{"p":"eq","g":"g","k":11,"x":0.2852,"y":1.0026},
{"p":"ea","g":"r","k":0,"x":0.116,"y":0.1418},{"p":"ea","g":"r","k":1,"x":0.0956,"y":0.188},{"p":"ea","g":"r","k":2,"x":0.04,"y":0.231},{"p":"ea","g":"r","k":3,"x":-0.036,"y":0.2593},{"p":"ea","g":"r","k":4,"x":-0.112,"y":0.2652},{"p":"ea","g":"r","k":5,"x":-0.1676,"y":0.2472},{"p":"ea","g":"r","k":6,"x":-0.188,"y":0.2102},{"p":"ea","g":"r","k":7,"x":-0.1676,"y":0.164},{"p":"ea","g":"r","k":8,"x":-0.112,"y":0.121},{"p":"ea","g":"r","k":9,"x":-0.036,"y":0.0927},{"p":"ea","g":"r","k":10,"x":0.04,"y":0.0868},{"p":"ea","g":"r","k":11,"x":0.0956,"y":0.1048},
{"p":"ea","g":"g","k":0,"x":0.303,"y":0.0806},{"p":"ea","g":"g","k":1,"x":0.2852,"y":0.1203},{"p":"ea","g":"g","k":2,"x":0.2365,"y":0.1562},{"p":"ea","g":"g","k":3,"x":0.17,"y":0.1787},{"p":"ea","g":"g","k":4,"x":0.1035,"y":0.1817},{"p":"ea","g":"g","k":5,"x":0.0548,"y":0.1644},{"p":"ea","g":"g","k":6,"x":0.037,"y":0.1314},{"p":"ea","g":"g","k":7,"x":0.0548,"y":0.0917},{"p":"ea","g":"g","k":8,"x":0.1035,"y":0.0558},{"p":"ea","g":"g","k":9,"x":0.17,"y":0.0333},{"p":"ea","g":"g","k":10,"x":0.2365,"y":0.0303},{"p":"ea","g":"g","k":11,"x":0.2852,"y":0.0476},
{"p":"vq","g":"r","k":0,"x":0.337,"y":0.706},{"p":"vq","g":"r","k":1,"x":0.3196,"y":0.9514},{"p":"vq","g":"r","k":2,"x":0.272,"y":1.1027},{"p":"vq","g":"r","k":3,"x":0.207,"y":1.1193},{"p":"vq","g":"r","k":4,"x":0.142,"y":0.9967},{"p":"vq","g":"r","k":5,"x":0.0944,"y":0.7679},{"p":"vq","g":"r","k":6,"x":0.077,"y":0.494},{"p":"vq","g":"r","k":7,"x":0.0944,"y":0.2486},{"p":"vq","g":"r","k":8,"x":0.142,"y":0.0973},{"p":"vq","g":"r","k":9,"x":0.207,"y":0.0807},{"p":"vq","g":"r","k":10,"x":0.272,"y":0.2033},{"p":"vq","g":"r","k":11,"x":0.3196,"y":0.4321},
{"p":"vq","g":"g","k":0,"x":0.39,"y":1.1486},{"p":"vq","g":"g","k":1,"x":0.3746,"y":1.3653},{"p":"vq","g":"g","k":2,"x":0.3325,"y":1.4989},{"p":"vq","g":"g","k":3,"x":0.275,"y":1.5135},{"p":"vq","g":"g","k":4,"x":0.2175,"y":1.4053},{"p":"vq","g":"g","k":5,"x":0.1754,"y":1.2032},{"p":"vq","g":"g","k":6,"x":0.16,"y":0.9614},{"p":"vq","g":"g","k":7,"x":0.1754,"y":0.7447},{"p":"vq","g":"g","k":8,"x":0.2175,"y":0.6111},{"p":"vq","g":"g","k":9,"x":0.275,"y":0.5965},{"p":"vq","g":"g","k":10,"x":0.3325,"y":0.7047},{"p":"vq","g":"g","k":11,"x":0.3746,"y":0.9068},
{"p":"va","g":"r","k":0,"x":0.337,"y":0.167},{"p":"va","g":"r","k":1,"x":0.3196,"y":0.213},{"p":"va","g":"r","k":2,"x":0.272,"y":0.2491},{"p":"va","g":"r","k":3,"x":0.207,"y":0.2656},{"p":"va","g":"r","k":4,"x":0.142,"y":0.2581},{"p":"va","g":"r","k":5,"x":0.0944,"y":0.2286},{"p":"va","g":"r","k":6,"x":0.077,"y":0.185},{"p":"va","g":"r","k":7,"x":0.0944,"y":0.139},{"p":"va","g":"r","k":8,"x":0.142,"y":0.1029},{"p":"va","g":"r","k":9,"x":0.207,"y":0.0864},{"p":"va","g":"r","k":10,"x":0.272,"y":0.0939},{"p":"va","g":"r","k":11,"x":0.3196,"y":0.1234},
{"p":"va","g":"g","k":0,"x":0.39,"y":0.0944},{"p":"va","g":"g","k":1,"x":0.3746,"y":0.1341},{"p":"va","g":"g","k":2,"x":0.3325,"y":0.1662},{"p":"va","g":"g","k":3,"x":0.275,"y":0.1821},{"p":"va","g":"g","k":4,"x":0.2175,"y":0.1777},{"p":"va","g":"g","k":5,"x":0.1754,"y":0.1541},{"p":"va","g":"g","k":6,"x":0.16,"y":0.1176},{"p":"va","g":"g","k":7,"x":0.1754,"y":0.0779},{"p":"va","g":"g","k":8,"x":0.2175,"y":0.0458},{"p":"va","g":"g","k":9,"x":0.275,"y":0.0299},{"p":"va","g":"g","k":10,"x":0.3325,"y":0.0343},{"p":"va","g":"g","k":11,"x":0.3746,"y":0.0579},
{"p":"qa","g":"r","k":0,"x":1.13,"y":0.149},{"p":"qa","g":"r","k":1,"x":1.059,"y":0.1955},{"p":"qa","g":"r","k":2,"x":0.865,"y":0.2368},{"p":"qa","g":"r","k":3,"x":0.6,"y":0.2619},{"p":"qa","g":"r","k":4,"x":0.335,"y":0.2638},{"p":"qa","g":"r","k":5,"x":0.141,"y":0.2423},{"p":"qa","g":"r","k":6,"x":0.07,"y":0.203},{"p":"qa","g":"r","k":7,"x":0.141,"y":0.1565},{"p":"qa","g":"r","k":8,"x":0.335,"y":0.1152},{"p":"qa","g":"r","k":9,"x":0.6,"y":0.0901},{"p":"qa","g":"r","k":10,"x":0.865,"y":0.0882},{"p":"qa","g":"r","k":11,"x":1.059,"y":0.1097},
{"p":"qa","g":"g","k":0,"x":1.523,"y":0.0806},{"p":"qa","g":"g","k":1,"x":1.4603,"y":0.1203},{"p":"qa","g":"g","k":2,"x":1.289,"y":0.1562},{"p":"qa","g":"g","k":3,"x":1.055,"y":0.1787},{"p":"qa","g":"g","k":4,"x":0.821,"y":0.1817},{"p":"qa","g":"g","k":5,"x":0.6497,"y":0.1644},{"p":"qa","g":"g","k":6,"x":0.587,"y":0.1314},{"p":"qa","g":"g","k":7,"x":0.6497,"y":0.0917},{"p":"qa","g":"g","k":8,"x":0.821,"y":0.0558},{"p":"qa","g":"g","k":9,"x":1.055,"y":0.0333},{"p":"qa","g":"g","k":10,"x":1.289,"y":0.0303},{"p":"qa","g":"g","k":11,"x":1.4603,"y":0.0476}
]
},
"concat":[
{"width":214,"height":88,
 "title":{"text":"Histogram of EBITDA.Total.Assets","offset":5},
 "layer":[
  {"data":{"name":"hist"},"transform":[{"filter":"datum.p=='e'"}],"mark":{"type":"rect","fill":"white","stroke":"black","strokeWidth":1},
   "encoding":{"x":{"field":"x0","type":"quantitative","title":null,"scale":{"domain":[-0.648,0.648],"nice":false,"zero":false},"axis":{"values":[-0.6,-0.4,-0.2,0,0.2,0.4,0.6],"tickCount":20,"format":".1f","labelOverlap":false}},"x2":{"field":"x1"},
   "y":{"field":"n","type":"quantitative","title":null,"scale":{"domain":[-4.8,124.8],"nice":false,"zero":false},"axis":{"values":[0,20,40,60,80,100,120],"tickCount":20,"format":"d","labelOverlap":false,"labelExpr":"datum.value%40==0?datum.label:''"}},"y2":{"datum":0}}},
  {"data":{"name":"dens"},"transform":[{"filter":"datum.p=='e'&&datum.c=='all'"}],"mark":{"type":"line","stroke":"#808080","strokeWidth":4,"interpolate":"natural"},"encoding":{"x":{"field":"x","type":"quantitative","title":null},"y":{"field":"y","type":"quantitative","title":null}}},
  {"data":{"name":"dens"},"transform":[{"filter":"datum.p=='e'&&datum.c=='r'"}],"mark":{"type":"line","stroke":"#FF0000","strokeWidth":2,"strokeDash":[6,5],"interpolate":"monotone"},"encoding":{"x":{"field":"x","type":"quantitative","title":null},"y":{"field":"y","type":"quantitative","title":null}}},
  {"data":{"name":"dens"},"transform":[{"filter":"datum.p=='e'&&datum.c=='g'"}],"mark":{"type":"line","stroke":"#00CD00","strokeWidth":2,"strokeDash":[6,5],"interpolate":"monotone"},"encoding":{"x":{"field":"x","type":"quantitative","title":null},"y":{"field":"y","type":"quantitative","title":null}}},
  {"data":{"name":"hax"},"transform":[{"filter":"datum.p=='e'"}],"mark":{"type":"rule","stroke":"black","strokeWidth":1},"encoding":{"x":{"field":"x0","type":"quantitative","title":null},"x2":{"field":"x1"},"y":{"field":"y0","type":"quantitative","title":null},"y2":{"field":"y1"}}}
 ]},
{"width":214,"height":88,"data":{"values":[]},"mark":"point"},
{"width":214,"height":88,"data":{"values":[]},"mark":"point"},
{"width":214,"height":88,"data":{"values":[]},"mark":"point"},
{"width":214,"height":88,"view":{"stroke":"black","strokeWidth":1},
 "layer":[
  {"data":{"name":"pts"},"mark":{"type":"point","filled":false,"strokeWidth":1,"size":36},
   "encoding":{"x":{"field":"e","type":"quantitative","title":null,"scale":{"domain":[-0.545,0.62],"nice":false,"zero":false},"axis":{"values":[-0.4,-0.2,0,0.2,0.4,0.6],"tickCount":20,"format":".1f","labelOverlap":false}},
   "y":{"field":"v","type":"quantitative","title":null,"scale":{"domain":[-0.053,0.562],"nice":false,"zero":false},"axis":{"values":[0,0.1,0.2,0.3,0.4,0.5],"tickCount":20,"format":".1f","labelOverlap":false,"labelExpr":"datum.value==0||datum.value==0.2||datum.value==0.4?datum.label:''"}},
   "shape":{"field":"g","type":"nominal","scale":{"domain":["r","g"],"range":["circle","triangle-up"]},"legend":null},
   "stroke":{"field":"g","type":"nominal","scale":{"domain":["r","g"],"range":["#FF0000","#00CD00"]},"legend":null}}},
  {"data":{"name":"axl"},"transform":[{"filter":"datum.p=='ev'"}],"mark":{"type":"rule","stroke":"black","strokeWidth":1,"strokeDash":[3,3]},"encoding":{"x":{"field":"x0","type":"quantitative","title":null},"y":{"field":"y0","type":"quantitative","title":null},"x2":{"field":"x1"},"y2":{"field":"y1"}}},
  {"data":{"name":"ell"},"transform":[{"filter":"datum.p=='ev'"}],"mark":{"type":"line","interpolate":"cardinal-closed","stroke":"black","strokeWidth":2},"encoding":{"x":{"field":"x","type":"quantitative","title":null},"y":{"field":"y","type":"quantitative","title":null},"detail":{"field":"g","type":"nominal"},"order":{"field":"k","type":"quantitative"}}},
  {"data":{"name":"cent"},"transform":[{"filter":"datum.p=='ev'"}],"mark":{"type":"point","shape":"M-1,0L1,0M0,-1L0,1M-0.75,-0.75L0.75,0.75M-0.75,0.75L0.75,-0.75","stroke":"black","strokeWidth":2.5,"size":90,"filled":false},"encoding":{"x":{"field":"x","type":"quantitative","title":null},"y":{"field":"y","type":"quantitative","title":null}}}
 ]},
{"width":214,"height":88,
 "title":{"text":"Histogram of Value.Added.Total.Sales","offset":5},
 "layer":[
  {"data":{"name":"hist"},"transform":[{"filter":"datum.p=='v'"}],"mark":{"type":"rect","fill":"white","stroke":"black","strokeWidth":1},
   "encoding":{"x":{"field":"x0","type":"quantitative","title":null,"scale":{"domain":[-0.074,0.574],"nice":false,"zero":false},"axis":{"values":[0,0.1,0.2,0.3,0.4,0.5],"tickCount":20,"format":".1f","labelOverlap":false}},"x2":{"field":"x1"},
   "y":{"field":"n","type":"quantitative","title":null,"scale":{"domain":[-3.2,82.2],"nice":false,"zero":false},"axis":{"values":[0,20,40,60,80],"tickCount":20,"format":"d","labelOverlap":false,"labelExpr":"datum.value==0||datum.value==20||datum.value==60?datum.label:''"}},"y2":{"datum":0}}},
  {"data":{"name":"dens"},"transform":[{"filter":"datum.p=='v'&&datum.c=='all'"}],"mark":{"type":"line","stroke":"#808080","strokeWidth":4,"interpolate":"natural"},"encoding":{"x":{"field":"x","type":"quantitative","title":null},"y":{"field":"y","type":"quantitative","title":null}}},
  {"data":{"name":"dens"},"transform":[{"filter":"datum.p=='v'&&datum.c=='r'"}],"mark":{"type":"line","stroke":"#FF0000","strokeWidth":2,"strokeDash":[6,5],"interpolate":"monotone"},"encoding":{"x":{"field":"x","type":"quantitative","title":null},"y":{"field":"y","type":"quantitative","title":null}}},
  {"data":{"name":"dens"},"transform":[{"filter":"datum.p=='v'&&datum.c=='g'"}],"mark":{"type":"line","stroke":"#00CD00","strokeWidth":2,"strokeDash":[6,5],"interpolate":"monotone"},"encoding":{"x":{"field":"x","type":"quantitative","title":null},"y":{"field":"y","type":"quantitative","title":null}}},
  {"data":{"name":"hax"},"transform":[{"filter":"datum.p=='v'"}],"mark":{"type":"rule","stroke":"black","strokeWidth":1},"encoding":{"x":{"field":"x0","type":"quantitative","title":null},"x2":{"field":"x1"},"y":{"field":"y0","type":"quantitative","title":null},"y2":{"field":"y1"}}}
 ]},
{"width":214,"height":88,"data":{"values":[]},"mark":"point"},
{"width":214,"height":88,"data":{"values":[]},"mark":"point"},
{"width":214,"height":88,"view":{"stroke":"black","strokeWidth":1},
 "layer":[
  {"data":{"name":"pts"},"mark":{"type":"point","filled":false,"strokeWidth":1,"size":36},
   "encoding":{"x":{"field":"e","type":"quantitative","title":null,"scale":{"domain":[-0.545,0.62],"nice":false,"zero":false},"axis":{"values":[-0.4,-0.2,0,0.2,0.4,0.6],"tickCount":20,"format":".1f","labelOverlap":false}},
   "y":{"field":"q","type":"quantitative","title":null,"scale":{"domain":[-0.07,2.485],"nice":false,"zero":false},"axis":{"values":[0,0.5,1,1.5,2],"tickCount":20,"format":".1f","labelOverlap":false,"labelExpr":"datum.value==0||datum.value==1||datum.value==2?datum.label:''"}},
   "shape":{"field":"g","type":"nominal","scale":{"domain":["r","g"],"range":["circle","triangle-up"]},"legend":null},
   "stroke":{"field":"g","type":"nominal","scale":{"domain":["r","g"],"range":["#FF0000","#00CD00"]},"legend":null}}},
  {"data":{"name":"axl"},"transform":[{"filter":"datum.p=='eq'"}],"mark":{"type":"rule","stroke":"black","strokeWidth":1,"strokeDash":[3,3]},"encoding":{"x":{"field":"x0","type":"quantitative","title":null},"y":{"field":"y0","type":"quantitative","title":null},"x2":{"field":"x1"},"y2":{"field":"y1"}}},
  {"data":{"name":"ell"},"transform":[{"filter":"datum.p=='eq'"}],"mark":{"type":"line","interpolate":"cardinal-closed","stroke":"black","strokeWidth":2},"encoding":{"x":{"field":"x","type":"quantitative","title":null},"y":{"field":"y","type":"quantitative","title":null},"detail":{"field":"g","type":"nominal"},"order":{"field":"k","type":"quantitative"}}},
  {"data":{"name":"cent"},"transform":[{"filter":"datum.p=='eq'"}],"mark":{"type":"point","shape":"M-1,0L1,0M0,-1L0,1M-0.75,-0.75L0.75,0.75M-0.75,0.75L0.75,-0.75","stroke":"black","strokeWidth":2.5,"size":90,"filled":false},"encoding":{"x":{"field":"x","type":"quantitative","title":null},"y":{"field":"y","type":"quantitative","title":null}}}
 ]},
{"width":214,"height":88,"view":{"stroke":"black","strokeWidth":1},
 "layer":[
  {"data":{"name":"pts"},"mark":{"type":"point","filled":false,"strokeWidth":1,"size":36},
   "encoding":{"x":{"field":"v","type":"quantitative","title":null,"scale":{"domain":[-0.053,0.562],"nice":false,"zero":false},"axis":{"values":[0,0.1,0.2,0.3,0.4,0.5],"tickCount":20,"format":".1f","labelOverlap":false}},
   "y":{"field":"q","type":"quantitative","title":null,"scale":{"domain":[-0.07,2.485],"nice":false,"zero":false},"axis":{"values":[0,0.5,1,1.5,2],"tickCount":20,"format":".1f","labelOverlap":false,"labelExpr":"datum.value==0||datum.value==1||datum.value==2?datum.label:''"}},
   "shape":{"field":"g","type":"nominal","scale":{"domain":["r","g"],"range":["circle","triangle-up"]},"legend":null},
   "stroke":{"field":"g","type":"nominal","scale":{"domain":["r","g"],"range":["#FF0000","#00CD00"]},"legend":null}}},
  {"data":{"name":"axl"},"transform":[{"filter":"datum.p=='vq'"}],"mark":{"type":"rule","stroke":"black","strokeWidth":1,"strokeDash":[3,3]},"encoding":{"x":{"field":"x0","type":"quantitative","title":null},"y":{"field":"y0","type":"quantitative","title":null},"x2":{"field":"x1"},"y2":{"field":"y1"}}},
  {"data":{"name":"ell"},"transform":[{"filter":"datum.p=='vq'"}],"mark":{"type":"line","interpolate":"cardinal-closed","stroke":"black","strokeWidth":2},"encoding":{"x":{"field":"x","type":"quantitative","title":null},"y":{"field":"y","type":"quantitative","title":null},"detail":{"field":"g","type":"nominal"},"order":{"field":"k","type":"quantitative"}}},
  {"data":{"name":"cent"},"transform":[{"filter":"datum.p=='vq'"}],"mark":{"type":"point","shape":"M-1,0L1,0M0,-1L0,1M-0.75,-0.75L0.75,0.75M-0.75,0.75L0.75,-0.75","stroke":"black","strokeWidth":2.5,"size":90,"filled":false},"encoding":{"x":{"field":"x","type":"quantitative","title":null},"y":{"field":"y","type":"quantitative","title":null}}}
 ]},
{"width":214,"height":88,
 "title":{"text":"Histogram of Quick.Ratio","offset":7},
 "layer":[
  {"data":{"name":"hist"},"transform":[{"filter":"datum.p=='q'"}],"mark":{"type":"rect","fill":"white","stroke":"black","strokeWidth":1},
   "encoding":{"x":{"field":"x0","type":"quantitative","title":null,"scale":{"domain":[-0.096,2.496],"nice":false,"zero":false},"axis":{"values":[0,0.5,1,1.5,2],"tickCount":20,"format":".1f","labelOverlap":false}},"x2":{"field":"x1"},
   "y":{"field":"n","type":"quantitative","title":null,"scale":{"domain":[-2.96,76.96],"nice":false,"zero":false},"axis":{"values":[0,20,40,60],"tickCount":20,"format":"d","labelOverlap":false}},"y2":{"datum":0}}},
  {"data":{"name":"dens"},"transform":[{"filter":"datum.p=='q'&&datum.c=='all'"}],"mark":{"type":"line","stroke":"#808080","strokeWidth":4,"interpolate":"natural"},"encoding":{"x":{"field":"x","type":"quantitative","title":null},"y":{"field":"y","type":"quantitative","title":null}}},
  {"data":{"name":"dens"},"transform":[{"filter":"datum.p=='q'&&datum.c=='r'"}],"mark":{"type":"line","stroke":"#FF0000","strokeWidth":2,"strokeDash":[6,5],"interpolate":"monotone"},"encoding":{"x":{"field":"x","type":"quantitative","title":null},"y":{"field":"y","type":"quantitative","title":null}}},
  {"data":{"name":"dens"},"transform":[{"filter":"datum.p=='q'&&datum.c=='g'"}],"mark":{"type":"line","stroke":"#00CD00","strokeWidth":2,"strokeDash":[6,5],"interpolate":"monotone"},"encoding":{"x":{"field":"x","type":"quantitative","title":null},"y":{"field":"y","type":"quantitative","title":null}}},
  {"data":{"name":"hax"},"transform":[{"filter":"datum.p=='q'"}],"mark":{"type":"rule","stroke":"black","strokeWidth":1},"encoding":{"x":{"field":"x0","type":"quantitative","title":null},"x2":{"field":"x1"},"y":{"field":"y0","type":"quantitative","title":null},"y2":{"field":"y1"}}}
 ]},
{"width":214,"height":88,"data":{"values":[]},"mark":"point"},
{"width":214,"height":88,"view":{"stroke":"black","strokeWidth":1},
 "layer":[
  {"data":{"name":"pts"},"mark":{"type":"point","filled":false,"strokeWidth":1,"size":36},
   "encoding":{"x":{"field":"e","type":"quantitative","title":null,"scale":{"domain":[-0.545,0.62],"nice":false,"zero":false},"axis":{"values":[-0.4,-0.2,0,0.2,0.4,0.6],"tickCount":20,"format":".1f","labelOverlap":false}},
   "y":{"field":"a","type":"quantitative","title":null,"scale":{"domain":[-0.007,0.441],"nice":false,"zero":false},"axis":{"values":[0,0.1,0.2,0.3,0.4],"tickCount":20,"format":".1f","labelOverlap":false,"labelExpr":"datum.value==0||datum.value==0.2||datum.value==0.4?datum.label:''"}},
   "shape":{"field":"g","type":"nominal","scale":{"domain":["r","g"],"range":["circle","triangle-up"]},"legend":null},
   "stroke":{"field":"g","type":"nominal","scale":{"domain":["r","g"],"range":["#FF0000","#00CD00"]},"legend":null}}},
  {"data":{"name":"axl"},"transform":[{"filter":"datum.p=='ea'"}],"mark":{"type":"rule","stroke":"black","strokeWidth":1,"strokeDash":[3,3]},"encoding":{"x":{"field":"x0","type":"quantitative","title":null},"y":{"field":"y0","type":"quantitative","title":null},"x2":{"field":"x1"},"y2":{"field":"y1"}}},
  {"data":{"name":"ell"},"transform":[{"filter":"datum.p=='ea'"}],"mark":{"type":"line","interpolate":"cardinal-closed","stroke":"black","strokeWidth":2},"encoding":{"x":{"field":"x","type":"quantitative","title":null},"y":{"field":"y","type":"quantitative","title":null},"detail":{"field":"g","type":"nominal"},"order":{"field":"k","type":"quantitative"}}},
  {"data":{"name":"cent"},"transform":[{"filter":"datum.p=='ea'"}],"mark":{"type":"point","shape":"M-1,0L1,0M0,-1L0,1M-0.75,-0.75L0.75,0.75M-0.75,0.75L0.75,-0.75","stroke":"black","strokeWidth":2.5,"size":90,"filled":false},"encoding":{"x":{"field":"x","type":"quantitative","title":null},"y":{"field":"y","type":"quantitative","title":null}}}
 ]},
{"width":214,"height":88,"view":{"stroke":"black","strokeWidth":1},
 "layer":[
  {"data":{"name":"pts"},"mark":{"type":"point","filled":false,"strokeWidth":1,"size":36},
   "encoding":{"x":{"field":"v","type":"quantitative","title":null,"scale":{"domain":[-0.053,0.562],"nice":false,"zero":false},"axis":{"values":[0,0.1,0.2,0.3,0.4,0.5],"tickCount":20,"format":".1f","labelOverlap":false}},
   "y":{"field":"a","type":"quantitative","title":null,"scale":{"domain":[-0.007,0.441],"nice":false,"zero":false},"axis":{"values":[0,0.1,0.2,0.3,0.4],"tickCount":20,"format":".1f","labelOverlap":false,"labelExpr":"datum.value==0||datum.value==0.2||datum.value==0.4?datum.label:''"}},
   "shape":{"field":"g","type":"nominal","scale":{"domain":["r","g"],"range":["circle","triangle-up"]},"legend":null},
   "stroke":{"field":"g","type":"nominal","scale":{"domain":["r","g"],"range":["#FF0000","#00CD00"]},"legend":null}}},
  {"data":{"name":"axl"},"transform":[{"filter":"datum.p=='va'"}],"mark":{"type":"rule","stroke":"black","strokeWidth":1,"strokeDash":[3,3]},"encoding":{"x":{"field":"x0","type":"quantitative","title":null},"y":{"field":"y0","type":"quantitative","title":null},"x2":{"field":"x1"},"y2":{"field":"y1"}}},
  {"data":{"name":"ell"},"transform":[{"filter":"datum.p=='va'"}],"mark":{"type":"line","interpolate":"cardinal-closed","stroke":"black","strokeWidth":2},"encoding":{"x":{"field":"x","type":"quantitative","title":null},"y":{"field":"y","type":"quantitative","title":null},"detail":{"field":"g","type":"nominal"},"order":{"field":"k","type":"quantitative"}}},
  {"data":{"name":"cent"},"transform":[{"filter":"datum.p=='va'"}],"mark":{"type":"point","shape":"M-1,0L1,0M0,-1L0,1M-0.75,-0.75L0.75,0.75M-0.75,0.75L0.75,-0.75","stroke":"black","strokeWidth":2.5,"size":90,"filled":false},"encoding":{"x":{"field":"x","type":"quantitative","title":null},"y":{"field":"y","type":"quantitative","title":null}}}
 ]},
{"width":214,"height":88,"view":{"stroke":"black","strokeWidth":1},
 "layer":[
  {"data":{"name":"pts"},"mark":{"type":"point","filled":false,"strokeWidth":1,"size":36},
   "encoding":{"x":{"field":"q","type":"quantitative","title":null,"scale":{"domain":[-0.07,2.485],"nice":false,"zero":false},"axis":{"values":[0,0.5,1,1.5,2],"tickCount":20,"format":".1f","labelOverlap":false}},
   "y":{"field":"a","type":"quantitative","title":null,"scale":{"domain":[-0.007,0.441],"nice":false,"zero":false},"axis":{"values":[0,0.1,0.2,0.3,0.4],"tickCount":20,"format":".1f","labelOverlap":false,"labelExpr":"datum.value==0||datum.value==0.2||datum.value==0.4?datum.label:''"}},
   "shape":{"field":"g","type":"nominal","scale":{"domain":["r","g"],"range":["circle","triangle-up"]},"legend":null},
   "stroke":{"field":"g","type":"nominal","scale":{"domain":["r","g"],"range":["#FF0000","#00CD00"]},"legend":null}}},
  {"data":{"name":"axl"},"transform":[{"filter":"datum.p=='qa'"}],"mark":{"type":"rule","stroke":"black","strokeWidth":1,"strokeDash":[3,3]},"encoding":{"x":{"field":"x0","type":"quantitative","title":null},"y":{"field":"y0","type":"quantitative","title":null},"x2":{"field":"x1"},"y2":{"field":"y1"}}},
  {"data":{"name":"ell"},"transform":[{"filter":"datum.p=='qa'"}],"mark":{"type":"line","interpolate":"cardinal-closed","stroke":"black","strokeWidth":2},"encoding":{"x":{"field":"x","type":"quantitative","title":null},"y":{"field":"y","type":"quantitative","title":null},"detail":{"field":"g","type":"nominal"},"order":{"field":"k","type":"quantitative"}}},
  {"data":{"name":"cent"},"transform":[{"filter":"datum.p=='qa'"}],"mark":{"type":"point","shape":"M-1,0L1,0M0,-1L0,1M-0.75,-0.75L0.75,0.75M-0.75,0.75L0.75,-0.75","stroke":"black","strokeWidth":2.5,"size":90,"filled":false},"encoding":{"x":{"field":"x","type":"quantitative","title":null},"y":{"field":"y","type":"quantitative","title":null}}}
 ]},
{"width":214,"height":88,
 "title":{"text":"Histogram of Accounts.Payable.Total.Sales","offset":4},
 "layer":[
  {"data":{"name":"hist"},"transform":[{"filter":"datum.p=='a'"}],"mark":{"type":"rect","fill":"white","stroke":"black","strokeWidth":1},
   "encoding":{"x":{"field":"x0","type":"quantitative","title":null,"scale":{"domain":[-0.018,0.468],"nice":false,"zero":false},"axis":{"values":[0,0.1,0.2,0.3,0.4],"tickCount":20,"format":".1f","labelOverlap":false}},"x2":{"field":"x1"},
   "y":{"field":"n","type":"quantitative","title":null,"scale":{"domain":[-4.68,121.68],"nice":false,"zero":false},"axis":{"values":[0,20,40,60,80,100,120],"tickCount":20,"format":"d","labelOverlap":false,"labelExpr":"datum.value%40==0?datum.label:''"}},"y2":{"datum":0}}},
  {"data":{"name":"dens"},"transform":[{"filter":"datum.p=='a'&&datum.c=='all'"}],"mark":{"type":"line","stroke":"#808080","strokeWidth":4,"interpolate":"natural"},"encoding":{"x":{"field":"x","type":"quantitative","title":null},"y":{"field":"y","type":"quantitative","title":null}}},
  {"data":{"name":"dens"},"transform":[{"filter":"datum.p=='a'&&datum.c=='r'"}],"mark":{"type":"line","stroke":"#FF0000","strokeWidth":2,"strokeDash":[6,5],"interpolate":"monotone"},"encoding":{"x":{"field":"x","type":"quantitative","title":null},"y":{"field":"y","type":"quantitative","title":null}}},
  {"data":{"name":"dens"},"transform":[{"filter":"datum.p=='a'&&datum.c=='g'"}],"mark":{"type":"line","stroke":"#00CD00","strokeWidth":2,"strokeDash":[6,5],"interpolate":"monotone"},"encoding":{"x":{"field":"x","type":"quantitative","title":null},"y":{"field":"y","type":"quantitative","title":null}}},
  {"data":{"name":"hax"},"transform":[{"filter":"datum.p=='a'"}],"mark":{"type":"rule","stroke":"black","strokeWidth":1},"encoding":{"x":{"field":"x0","type":"quantitative","title":null},"x2":{"field":"x1"},"y":{"field":"y0","type":"quantitative","title":null},"y2":{"field":"y1"}}}
 ]}
]
}
